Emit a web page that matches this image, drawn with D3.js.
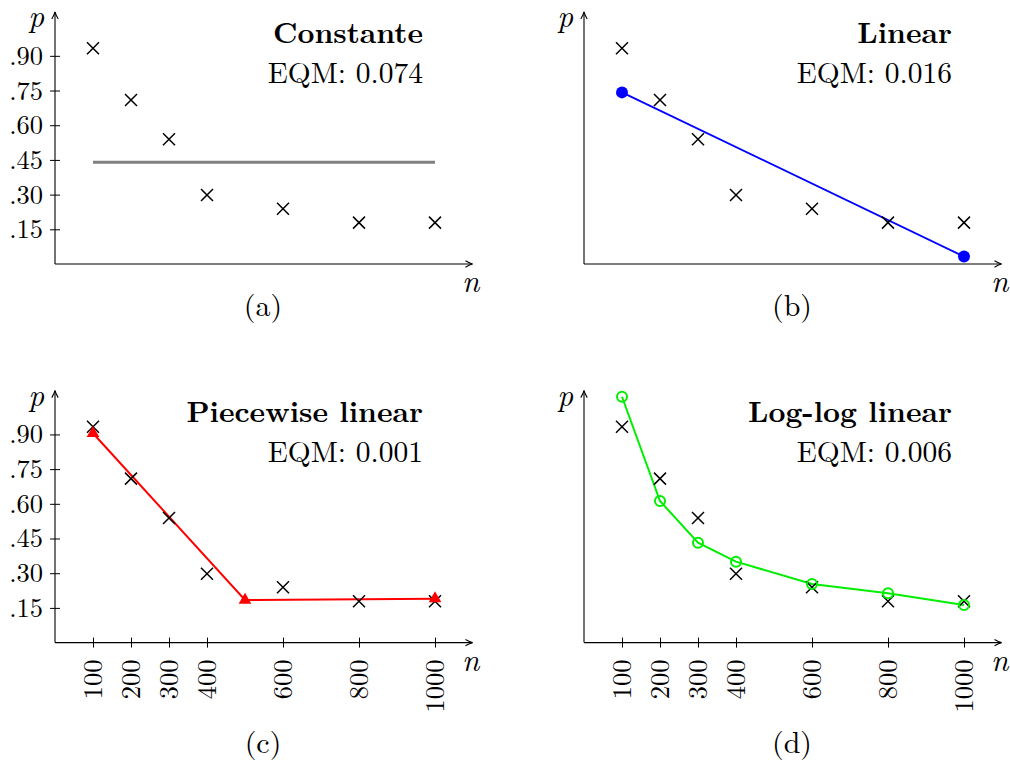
<!DOCTYPE html>
<html>
<head>
<meta charset="utf-8">
<script src="https://cdn.jsdelivr.net/npm/d3@7"></script>
</head>
<body style="margin:0">
<svg id="fig" width="1010" height="762"></svg>
<script>
// Sample sizes and observed proportions (same points in every panel)
const sizes = [100, 200, 300, 400, 600, 800, 1000];
const observed = [0.933, 0.709, 0.539, 0.298, 0.239, 0.179, 0.179];
const yTicks = [0.15, 0.30, 0.45, 0.60, 0.75, 0.90];

// Fitted models
const constantN = [100, 1000];
const constantP = [0.44, 0.44];
const linearN = [100, 1000];
const linearP = [0.742, 0.032];
const piecewiseN = [100, 500, 1000];
const piecewiseP = [0.905, 0.184, 0.19];
const loglogN = [100, 200, 300, 400, 600, 800, 1000];
const loglogP = [1.063, 0.612, 0.432, 0.350, 0.253, 0.213, 0.163];

// Panel texts
const titles = ["Constante", "Linear", "Piecewise linear", "Log-log linear"];
const eqm = ["0.074", "0.016", "0.001", "0.006"];
const captions = ["(a)", "(b)", "(c)", "(d)"];

const FONT = '"Latin Modern Roman", "Liberation Serif"';

const svg = d3.select("#fig");

// Shared scales, origin of each panel is the axis corner
const x = d3.scaleLinear().domain([0, 1000]).range([0, 380]);
const y = d3.scaleLinear().domain([0, 1]).range([0, -231.3]);

const panels = [
    { ox: 55, oy: 264, yLabels: true, xLabels: false, capY: 52,
      fit: { n: constantN, p: constantP, color: "#808080", width: 3, marker: null } },
    { ox: 584, oy: 264, yLabels: false, xLabels: false, capY: 52,
      fit: { n: linearN, p: linearP, color: "#0000ff", width: 1.8, marker: "dot" } },
    { ox: 55, oy: 642.6, yLabels: true, xLabels: true, capY: 110,
      fit: { n: piecewiseN, p: piecewiseP, color: "#ff0000", width: 2, marker: "triangle" } },
    { ox: 584, oy: 642.6, yLabels: false, xLabels: true, capY: 110,
      fit: { n: loglogN, p: loglogP, color: "#00ee00", width: 2, marker: "ring" } }
];

const arrowHead = "M-7,-3.2 Q-2.5,-0.6 0,0 Q-2.5,0.6 -7,3.2";
const crossPath = "M-6,-6L6,6M-6,6L6,-6";

function setFont(sel, size) {
    return sel.attr("font-size", size)
        .style("font-family", FONT)
        .attr("fill", "#000");
}

function addText(g, str, size) {
    return setFont(g.append("text").text(str), size);
}

panels.forEach((pn, i) => {
    const g = svg.append("g").attr("transform", `translate(${pn.ox},${pn.oy})`);

    // Y axis ticks (only on left panels)
    if (pn.yLabels) {
        const yAxisG = g.append("g")
            .call(d3.axisLeft(y)
                .tickValues(yTicks)
                .tickSize(5)
                .tickPadding(7)
                .tickFormat(d => d3.format(".2f")(d).replace(/^0/, "")));
        yAxisG.attr("font-family", null).attr("font-size", null);
        yAxisG.select(".domain").remove();
        yAxisG.selectAll(".tick line").attr("x1", 5).attr("stroke", "#000");
        setFont(yAxisG.selectAll(".tick text"), 26.5)
            .attr("dy", "0.32em");
    }

    // X axis ticks (bottom panels)
    if (pn.xLabels) {
        const xAxisG = g.append("g")
            .call(d3.axisBottom(x).tickValues(sizes).tickSize(5).tickFormat(d3.format("d")));
        xAxisG.attr("font-family", null).attr("font-size", null);
        xAxisG.select(".domain").remove();
        xAxisG.selectAll(".tick line").attr("y1", -5).attr("stroke", "#000");
        setFont(xAxisG.selectAll(".tick text"), 26.5)
            .attr("transform", "rotate(-90)")
            .attr("text-anchor", "end")
            .attr("x", -17)
            .attr("y", 0)
            .attr("dy", "0.32em");
    }

    // Axis lines with arrow tips
    g.append("line").attr("x1", 0).attr("y1", 0).attr("x2", 417.5).attr("y2", 0)
        .attr("stroke", "#000").attr("stroke-width", 1.1);
    g.append("path").attr("d", arrowHead)
        .attr("transform", "translate(417.5,0)")
        .attr("fill", "none").attr("stroke", "#000").attr("stroke-width", 1.1);
    g.append("line").attr("x1", 0).attr("y1", 0).attr("x2", 0).attr("y2", -252)
        .attr("stroke", "#000").attr("stroke-width", 1.1);
    g.append("path").attr("d", arrowHead)
        .attr("transform", "translate(0,-252)rotate(-90)")
        .attr("fill", "none").attr("stroke", "#000").attr("stroke-width", 1.1);

    // Axis names
    addText(g, "p", 31).attr("x", -11).attr("y", -237)
        .attr("text-anchor", "end").style("font-style", "italic");
    addText(g, "n", 31).attr("x", 407).attr("y", 28)
        .style("font-style", "italic");

    // Title and error
    addText(g, titles[i], 29.5).attr("x", 368).attr("y", -221)
        .attr("text-anchor", "end").style("font-weight", "bold");
    addText(g, `EQM: ${eqm[i]}`, 29.5).attr("x", 368).attr("y", -181)
        .attr("text-anchor", "end");

    // Caption
    addText(g, captions[i], 30).attr("x", 208).attr("y", pn.capY)
        .attr("text-anchor", "middle");

    // Fitted model
    const fitData = pn.fit.n.map((n, k) => ({ n, p: pn.fit.p[k] }));
    const line = d3.line().x(d => x(d.n)).y(d => y(d.p));
    g.append("path").datum(fitData)
        .attr("d", line)
        .attr("fill", "none")
        .attr("stroke", pn.fit.color)
        .attr("stroke-width", pn.fit.width);

    // Observed points as crosses
    g.selectAll(".obs")
        .data(sizes.map((n, k) => ({ n, p: observed[k] })))
        .enter().append("path")
        .attr("class", "obs")
        .attr("d", crossPath)
        .attr("transform", d => `translate(${x(d.n)},${y(d.p)})`)
        .attr("stroke", "#000")
        .attr("stroke-width", 1.5)
        .attr("fill", "none");

    // Fit markers
    if (pn.fit.marker === "dot") {
        g.selectAll(".fitmark").data(fitData).enter().append("circle")
            .attr("cx", d => x(d.n)).attr("cy", d => y(d.p)).attr("r", 6)
            .attr("fill", pn.fit.color);
    } else if (pn.fit.marker === "triangle") {
        g.selectAll(".fitmark").data(fitData).enter().append("path")
            .attr("d", d3.symbol(d3.symbolTriangle, 70))
            .attr("transform", d => `translate(${x(d.n)},${y(d.p)})`)
            .attr("fill", pn.fit.color);
    } else if (pn.fit.marker === "ring") {
        g.selectAll(".fitmark").data(fitData).enter().append("circle")
            .attr("cx", d => x(d.n)).attr("cy", d => y(d.p)).attr("r", 5)
            .attr("fill", "none")
            .attr("stroke", pn.fit.color)
            .attr("stroke-width", 2);
    }
});
</script>
</body>
</html>
